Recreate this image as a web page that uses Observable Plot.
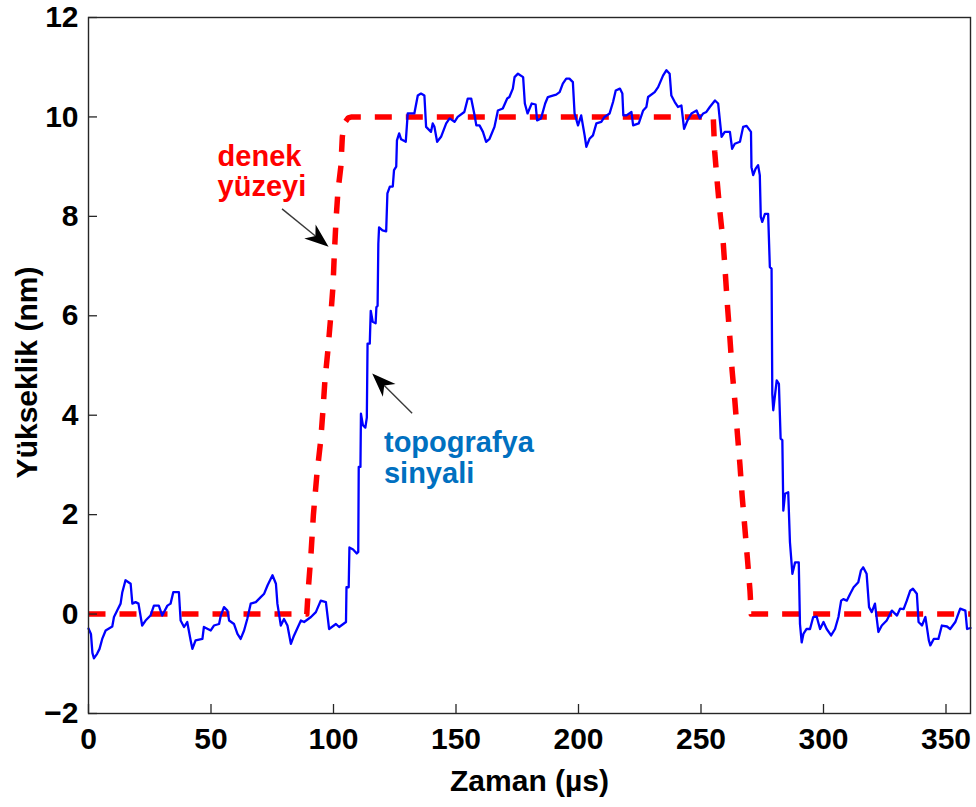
<!DOCTYPE html>
<html><head><meta charset="utf-8">
<script src="https://cdn.jsdelivr.net/npm/d3@7"></script>
<script src="https://cdn.jsdelivr.net/npm/@observablehq/plot@0.6"></script>
<style>body{margin:0;background:#fff}</style>
</head><body><div id="chart"></div>
<script>
// topografya sinyali (blue)
const blueTime = [0,1.0,1.6,2.2,3.5,4.5,5.6,7.0,9.7,10.4,11.7,13.1,13.8,15.1,17.2,17.9,19.2,20.4,21.9,23.3,25.3,26.7,28.7,30.1,32.2,33.5,34.6,36.9,37.6,39.0,40.3,41.7,42.4,43.7,46.5,47.1,49.9,51.2,53.3,54.0,55.3,56.7,57.4,59.4,60.8,62.1,63.5,64.8,66.2,68.3,70.3,71.7,73.1,75.1,76.5,77.1,78.5,79.8,81.2,82.6,83.9,86.7,88.0,90.8,92.8,94.8,96.9,98.2,101.0,102.3,105.1,
105.3,106.2,106.5,108.0,109.5,110.1,110.3,111.0,111.2,112.0,113.0,113.6,113.9,114.8,115.2,116.0,117.2,117.5,118.0,118.3,118.6,120.0,121.5,122.0,123.0,124.2,124.7,125.6,125.9,126.8,
127.6,129.5,130.3,133.0,134.4,135.7,137.1,137.8,139.8,140.5,141.2,142.3,143.9,146.0,147.4,149.4,150.7,153.4,154.8,156.2,157.6,158.3,159.6,161.0,162.3,163.7,165.7,167.1,169.1,170.9,171.8,173.2,173.9,175.3,177.4,178.1,179.2,180.9,182.5,183.1,184.7,186.4,187.5,189.5,190.9,192.3,193.6,195.0,196.3,197.7,198.4,199.8,201.1,202.5,203.2,204.5,205.9,207.3,209.3,210.6,212.7,214.1,215.2,216.9,217.9,218.3,219.6,221.6,222.3,224.6,226.4,227.7,228.4,231.1,232.5,234.5,235.9,237.2,237.9,239.3,240.6,242.0,243.1,244.5,246.1,248.2,249.5,250.9,252.2,253.6,255.7,257.0,
258.4,259.7,261.8,262.7,263.8,265.9,267.2,268.6,270.4,270.6,271.3,272.3,273.3,274.0,274.4,275.0,276.1,277.4,278.1,278.8,279.1,279.5,280.9,281.8,282.5,283.2,283.6,284.3,285.6,286.3,287.3,288.4,289.9,290.4,291.1,
291.8,293.1,294.5,295.8,297.2,298.6,300.0,301.3,303.1,304.7,306.1,307.2,308.1,309.5,310.9,312.3,314.2,315.3,316.2,317.6,318.6,319.7,321.0,322.4,323.8,325.8,327.9,330.0,331.3,332.7,334.0,335.4,336.5,338.1,338.8,340.2,341.6,343.0,343.6,345.0,346.9,348.3,350.4,351.7,353.8,355.8,357.9,358.6,360];
const blueHeight = [-0.29,-0.4,-0.78,-0.89,-0.8,-0.7,-0.5,-0.33,-0.25,-0.06,0.07,0.21,0.44,0.68,0.61,0.21,0.24,0.21,-0.23,-0.13,-0.03,0.17,0.17,-0.03,0.17,0.21,0.44,0.44,-0.13,-0.26,-0.16,-0.53,-0.7,-0.53,-0.5,-0.26,-0.33,-0.23,-0.2,-0.03,0.14,0.07,-0.13,-0.2,-0.4,-0.5,-0.33,-0.1,0.21,0.24,0.34,0.41,0.58,0.78,0.61,0.21,-0.23,-0.1,-0.23,-0.6,-0.43,-0.13,-0.16,-0.06,0.04,0.27,0.24,-0.3,-0.2,-0.26,-0.16,
0.54,0.54,1.34,1.3,1.22,1.25,2.96,2.96,4.03,3.8,3.75,3.95,5.44,5.44,6.1,5.88,5.85,6.17,6.2,7.45,7.78,7.72,7.7,8.46,8.6,8.6,8.93,9.0,9.53,9.67,
9.55,9.5,10.07,10.07,10.43,10.47,10.43,9.8,9.7,9.87,9.8,9.5,9.6,9.87,9.97,9.9,10.0,10.1,10.37,10.37,10.03,9.83,9.83,9.7,9.5,9.56,9.8,10.13,10.17,10.37,10.4,10.57,10.8,10.87,10.8,10.27,10.07,10.27,10.25,9.93,9.97,10.27,10.4,10.43,10.45,10.5,10.67,10.77,10.77,10.7,10.07,9.83,10.03,9.63,9.4,9.56,9.63,9.87,9.9,10.0,10.07,10.3,10.53,10.57,10.47,10.03,10.03,10.1,9.83,9.87,10.13,10.2,10.4,10.5,10.6,10.83,10.94,10.87,10.43,10.3,10.2,10.23,9.76,9.93,10.07,10.13,9.97,10.07,10.1,10.2,10.33,10.27,
9.6,9.7,9.7,9.36,9.46,9.5,9.8,9.82,9.7,8.99,8.83,8.96,9.03,8.83,7.99,7.89,8.05,8.05,6.98,6.95,4.43,4.1,4.7,4.63,3.53,3.5,2.08,2.42,2.45,1.45,0.81,1.04,1.04,-0.2,-0.57,
-0.4,-0.3,-0.3,-0.06,-0.05,-0.3,-0.16,-0.3,-0.43,-0.3,-0.06,0.27,0.3,0.27,0.41,0.54,0.64,0.88,0.94,0.81,0.14,0.04,0.21,-0.36,-0.23,-0.13,0.07,-0.03,0.11,0.1,0.27,0.47,0.51,0.41,-0.16,-0.23,-0.06,-0.53,-0.63,-0.5,-0.5,-0.23,-0.25,-0.3,-0.16,0.11,0.07,-0.3,-0.28];

// denek yüzeyi (red dashed)
const redTime = [0,89.1,89.7,90.8,91.8,93.2,94.8,95.7,96.5,97.7,98.9,99.8,100.3,101.0,101.8,103.0,103.6,104.5,106.0,107.5,255.0,255.6,256.6,257.7,259.1,260.0,260.8,261.8,262.7,263.8,264.9,265.9,266.8,267.9,269.0,270.0,270.5,360];
const redHeight = [0,0,0.5,1.2,2.0,2.8,3.5,4.1,4.7,5.3,6.0,6.6,7.2,7.9,8.5,9.0,9.6,9.88,9.98,10,10,9.3,8.7,8.1,7.45,6.8,6.2,5.55,4.9,4.3,3.6,3.0,2.37,1.73,1.08,0.47,0,0];

const xTicks = [0,50,100,150,200,250,300,350];
const xTickLabels = ["0","50","100","150","200","250","300","350"];
const yTicks = [-2,0,2,4,6,8,10,12];
const yTickLabels = ["\u22122","0","2","4","6","8","10","12"];

const redLabelLines = ["denek","yüzeyi"];
const redLabelX = [52.7,52.7];
const redLabelY = [9.2,8.6];
const blueLabelLines = ["topografya","sinyali"];
const blueLabelX = [120.6,120.6];
const blueLabelY = [3.44,2.83];

const arrowX1 = [79.2,132.3];
const arrowY1 = [8.14,4.03];
const arrowX2 = [98.2,116.0];
const arrowY2 = [7.38,4.83];

const W = 976, H = 807, mL = 88, mR = 6, mT = 17, mB = 94;
const frameW = W - mL - mR, frameH = H - mT - mB;
const tickLen = 9;
const font = "'Liberation Sans', Arial, Helvetica, sans-serif";

const chart = Plot.plot({
  width: W, height: H,
  marginLeft: mL, marginRight: mR, marginTop: mT, marginBottom: mB,
  style: {fontFamily: font, background: "#fff", overflow: "visible"},
  x: {domain: [0, 360]},
  y: {domain: [-2, 12]},
  marks: [
    Plot.line(redHeight, {x: redTime, y: redHeight, stroke: "#ff0000", strokeWidth: 5.5, strokeDasharray: "17,14", strokeLinecap: "butt"}),
    Plot.line(blueHeight, {x: blueTime, y: blueHeight, stroke: "#0000ff", strokeWidth: 2.3, strokeLinejoin: "round"}),
    Plot.frame({stroke: "#262626", strokeWidth: 1.4}),
    Plot.tickX(xTicks, {x: d => d, insetTop: frameH - tickLen, stroke: "#262626", strokeWidth: 1.3}),
    Plot.tickY(yTicks, {y: d => d, insetRight: frameW - tickLen, stroke: "#262626", strokeWidth: 1.3}),
    Plot.axisX(xTicks, {tickSize: 0, tickPadding: 14, label: null, fontSize: 30, fontWeight: "bold", fill: "#000",
      tickFormat: d => xTickLabels[xTicks.indexOf(d)]}),
    Plot.axisY(yTicks, {tickSize: 0, tickPadding: 10, label: null, fontSize: 30, fontWeight: "bold", fill: "#000",
      tickFormat: d => yTickLabels[yTicks.indexOf(d)]}),
    Plot.text(["Zaman (µs)"], {frameAnchor: "bottom", dy: 68, fontSize: 30, fontWeight: "bold", fill: "#000", lineAnchor: "middle", textAnchor: "middle"}),
    Plot.text(["Yükseklik (nm)"], {frameAnchor: "left", dx: -61, dy: 7, rotate: -90, fontSize: 30, fontWeight: "bold", fill: "#000", lineAnchor: "middle", textAnchor: "middle"}),
    Plot.text(redLabelLines, {x: redLabelX, y: redLabelY, text: d => d, textAnchor: "start", lineAnchor: "middle", fontSize: 29, fontWeight: "bold", fill: "#ff0000"}),
    Plot.text(blueLabelLines, {x: blueLabelX, y: blueLabelY, text: d => d, textAnchor: "start", lineAnchor: "middle", fontSize: 29, fontWeight: "bold", fill: "#0070c0"})
  ]
});

document.getElementById("chart").appendChild(chart);

// annotation arrows with filled heads, positioned via the plot's scales
const sx = chart.scale("x"), sy = chart.scale("y");
const svg = d3.select(chart);
const g = svg.append("g").attr("class", "arrows");
arrowX1.forEach((_, i) => {
  const x1 = sx.apply(arrowX1[i]), y1 = sy.apply(arrowY1[i]);
  const x2 = sx.apply(arrowX2[i]), y2 = sy.apply(arrowY2[i]);
  const dx = x2 - x1, dy = y2 - y1, len = Math.hypot(dx, dy);
  const ux = dx / len, uy = dy / len, nx = -uy, ny = ux;
  const L = 24, Wd = 9, notch = 7;
  const bx = x2 - ux * L, by = y2 - uy * L;
  const cx = x2 - ux * (L - notch), cy = y2 - uy * (L - notch);
  g.append("line").attr("x1", x1).attr("y1", y1).attr("x2", cx).attr("y2", cy)
    .attr("stroke", "#3a3a3a").attr("stroke-width", 1.4);
  g.append("path")
    .attr("d", `M${x2},${y2}L${bx + nx * Wd},${by + ny * Wd}L${cx},${cy}L${bx - nx * Wd},${by - ny * Wd}Z`)
    .attr("fill", "#000");
});
</script>
</body></html>
